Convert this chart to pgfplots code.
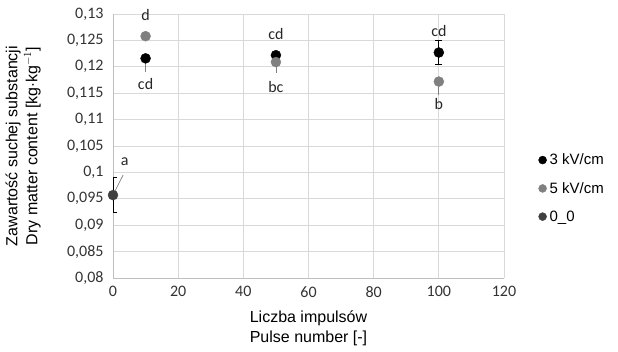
\documentclass[border=0pt]{standalone}
\usepackage{fontspec}
\setmainfont{Liberation Sans}
\newfontfamily\calib{Carlito}
\usepackage{pgfplots}
\pgfplotsset{compat=1.18}
\definecolor{gridc}{RGB}{217,217,217}
\definecolor{axc}{RGB}{191,191,191}
\definecolor{cA}{RGB}{0,0,0}
\definecolor{cB}{RGB}{128,128,128}
\definecolor{cC}{RGB}{64,64,64}
\begin{document}
\begin{tikzpicture}[x=1pt,y=1pt]
\useasboundingbox (0,0) rectangle (618,351);
\begin{axis}[
  at={(113pt,73pt)}, anchor=south west,
  scale only axis, width=391pt, height=264pt,
  xmin=0, xmax=120, ymin=0.08, ymax=0.13,
  xtick={0,20,...,120},
  ytick={0.08,0.085,0.09,0.095,0.1,0.105,0.11,0.115,0.12,0.125,0.13},
  /pgf/number format/assume math mode=true,
  tick label style={font=\calib\fontsize{16}{18}\selectfont, text=black!80},
  yticklabel style={xshift=-6pt, /pgf/number format/.cd, fixed, precision=3, use comma},
  xticklabel style={yshift=-5pt},
  major tick length=0pt,
  grid=major,
  major grid style={gridc, line width=0.8pt},
  axis line style={axc, line width=0.8pt},
  axis x line*=bottom, axis y line*=left,
  clip mode=individual,
  xlabel={Liczba impulsów\\Pulse number [-]},
  ylabel={Zawartość suchej substancji\\Dry matter content [kg$\cdot$kg$^{-1}$]},
  xlabel style={at={(axis description cs:0.5,-0.19)}, anchor=center, align=center, font=\fontsize{16}{20}\selectfont},
  ylabel style={at={(axis description cs:-0.23,0.5)}, anchor=center, align=center, font=\fontsize{16}{20}\selectfont},
  legend style={at={(1.088,0.34)}, anchor=west, draw=none, fill=none,
    font=\fontsize{15}{17}\selectfont, row sep=12pt, inner xsep=0pt,
    /tikz/every odd column/.append style={column sep=1pt}},
  legend cell align=left,
  legend image code/.code={\draw[#1, mark size=4pt] plot coordinates {(0pt,0pt)};},
]
% leader lines
\draw[cB, line width=0.7pt] (axis cs:10,0.1216) -- (axis cs:10,0.1191);
\draw[cB, line width=0.7pt] (axis cs:50,0.1210) -- (axis cs:50,0.1188);
\draw[cB, line width=0.7pt] (axis cs:100,0.1173) -- (axis cs:100,0.1147);
\draw[cB, line width=0.7pt] (axis cs:0,0.0957) -- (axis cs:3.1,0.0995);

\addplot[only marks, mark=*, mark size=5pt, cA, mark options={fill=cA},
  error bars/.cd, y dir=both, y explicit,
  error bar style={line width=0.7pt, black}, error mark options={rotate=90, mark size=3.5pt, black}]
  coordinates {(10,0.1216) +- (0,0.0004) (50,0.1222) +- (0,0.0003) (100,0.1227) +- (0,0.0023)};
\addlegendentry{3 kV/cm}
\addplot[only marks, mark=*, mark size=5pt, cB, mark options={fill=cB}]
  coordinates {(10,0.1258) (50,0.1209) (100,0.1172)};
\addlegendentry{5 kV/cm}
\addplot[only marks, mark=*, mark size=5pt, cC, mark options={fill=cC},
  error bars/.cd, y dir=both, y explicit,
  error bar style={line width=0.7pt, black}, error mark options={rotate=90, mark size=3.5pt, black}]
  coordinates {(0,0.0957) +- (0,0.0033)};
\addlegendentry{0\_0}

\begin{scope}[every node/.style={font=\calib\fontsize{16}{18}\selectfont, text=black!85}]
\node at (axis cs:10,0.1298) {d};
\node at (axis cs:10,0.1167) {cd};
\node at (axis cs:50,0.1262) {cd};
\node at (axis cs:50,0.1162) {bc};
\node at (axis cs:100,0.1268) {cd};
\node at (axis cs:100,0.1130) {b};
\node at (axis cs:3.6,0.1020) {a};
\end{scope}
\end{axis}
\end{tikzpicture}
\end{document}
